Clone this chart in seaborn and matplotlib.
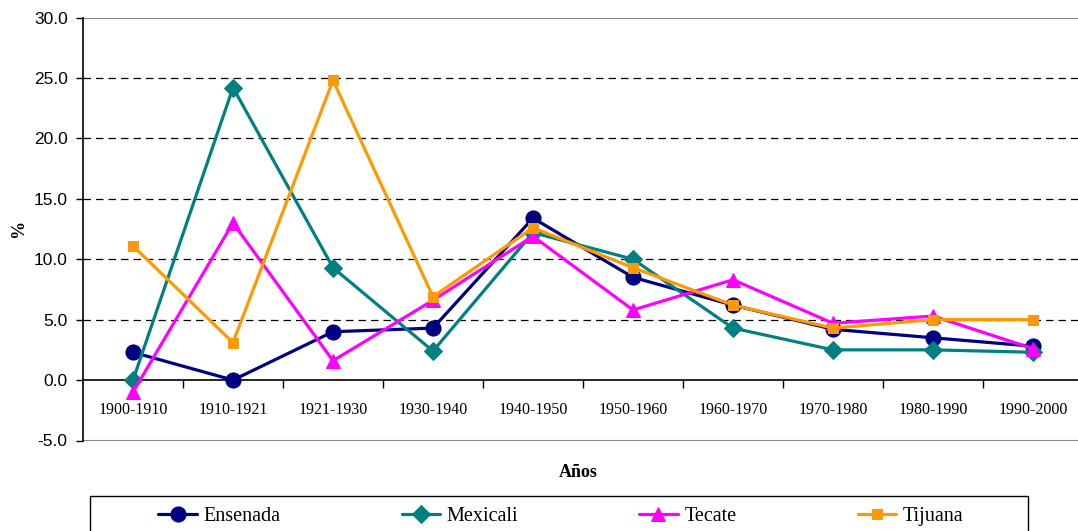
import matplotlib
matplotlib.use("Agg")
import matplotlib.pyplot as plt
import numpy as np
import pandas as pd
import seaborn as sns
from matplotlib.patches import Rectangle

PERIODS = ["1900-1910", "1910-1921", "1921-1930", "1930-1940", "1940-1950",
           "1950-1960", "1960-1970", "1970-1980", "1980-1990", "1990-2000"]
ENSENADA = [2.3, 0.0, 4.0, 4.3, 13.4, 8.5, 6.2, 4.2, 3.5, 2.8]
MEXICALI = [0.0, 24.2, 9.3, 2.4, 12.2, 10.0, 4.3, 2.5, 2.5, 2.3]
TECATE = [-1.0, 13.0, 1.6, 6.6, 11.9, 5.8, 8.3, 4.7, 5.3, 2.6]
TIJUANA = [11.1, 3.1, 24.8, 6.9, 12.6, 9.3, 6.2, 4.3, 5.0, 5.0]
Y_TICKS = [-5, 0, 5, 10, 15, 20, 25, 30]

SERIES = {
    "Ensenada": (ENSENADA, "#000080", "o", 14.5),
    "Mexicali": (MEXICALI, "#008080", "D", 12),
    "Tecate": (TECATE, "#FF00FF", "^", 14),
    "Tijuana": (TIJUANA, "#FF9900", "s", 9),
}

sns.set_theme(style="white")
plt.rcParams["font.family"] = ["Liberation Serif", "DejaVu Serif"]
plt.rcParams.update({"text.color": "black", "axes.labelcolor": "black",
                     "xtick.color": "black", "ytick.color": "black"})

fig = plt.figure(figsize=(10.78, 5.31), dpi=100)
ax = fig.add_axes([83 / 1078, 90.5 / 531, 1000 / 1078, 423 / 531])

x = np.arange(len(PERIODS))
for name, (vals, color, marker, msize) in SERIES.items():
    df = pd.DataFrame({"x": x, "y": vals})
    sns.lineplot(data=df, x="x", y="y", color=color, marker=marker, markersize=msize,
                 markeredgecolor=color, linewidth=2.3, label=name, ax=ax, zorder=3)

ax.set_xlim(-0.5, len(PERIODS) - 0.5)
ax.set_ylim(-5, 30)
ax.set_yticks(Y_TICKS)
ax.set_yticklabels([f"{v:.1f}" for v in Y_TICKS], family=["Liberation Sans", "DejaVu Sans"], fontsize=12.5)

for v in Y_TICKS[2:-1]:
    ax.axhline(v, color="black", linewidth=0.9, linestyle=(0, (6, 4)), zorder=1)
ax.axhline(30, color="#888888", linewidth=1.5, zorder=1)
ax.axhline(-5, color="#888888", linewidth=1.5, zorder=1)

for s in ["top", "right"]:
    ax.spines[s].set_visible(False)
ax.spines["left"].set_color("black")
ax.spines["left"].set_linewidth(1.2)
ax.spines["bottom"].set_position(("data", 0))
ax.spines["bottom"].set_color("black")
ax.spines["bottom"].set_linewidth(1.2)

ax.set_xticks(x)
ax.set_xticklabels(PERIODS, fontsize=11.5)
ax.set_xticks(x[:-1] + 0.5, minor=True)
ax.tick_params(axis="x", which="major", length=0, pad=16)
ax.tick_params(axis="x", which="minor", length=6, width=1, color="black", direction="out", bottom=True)
ax.tick_params(axis="y", length=5, width=1, color="black", direction="out", left=True, pad=6)

ax.set_xlabel("Años", fontsize=13, fontweight="bold")
ax.xaxis.set_label_coords(0.495, -0.055)
ax.set_ylabel("%", fontsize=13, fontweight="bold")
ax.yaxis.set_label_coords(-0.056, 0.5)

handles, labels = ax.get_legend_handles_labels()
ax.get_legend().remove()
for h in handles:
    h.set_markersize(h.get_markersize() * 0.75)
fig.legend(handles, labels, loc="center", ncol=4,
           bbox_to_anchor=(561 / 1078, 1 - 516 / 531),
           fontsize=14.5, frameon=False, handlelength=1.9, handletextpad=0.35,
           columnspacing=6.0, borderpad=0, borderaxespad=0)
fig.patches.append(Rectangle((90 / 1078, -0.05), 938 / 1078, 0.05 + 1 - 496 / 531,
                             transform=fig.transFigure, fill=False, edgecolor="black",
                             linewidth=1.0, clip_on=False))

fig.savefig("out.png", dpi=100)
